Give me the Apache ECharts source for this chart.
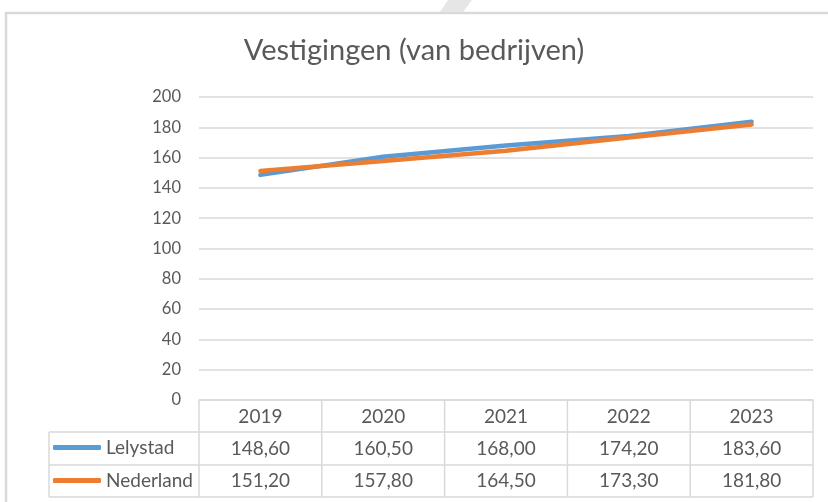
<!DOCTYPE html>
<html>
<head>
<meta charset="utf-8">
<script src="https://cdn.jsdelivr.net/npm/echarts@6/dist/echarts.min.js"></script>
<style>
    html, body { margin: 0; padding: 0; background: #fff; }
    #chart { width: 828px; height: 502px; }
</style>
</head>
<body>
<div id="chart"></div>
<script>
// data
const years = ['2019', '2020', '2021', '2022', '2023'];
const lelystad = [148.6, 160.5, 168.0, 174.2, 183.6];
const nederland = [151.2, 157.8, 164.5, 173.3, 181.8];
const seriesNames = ['Lelystad', 'Nederland'];

// layout
const gridLeft = 199, gridRight = 813, gridTop = 97, gridBottom = 400;
const rowY = [400, 432, 465, 497];
const legendLeft = 49;
const colW = (gridRight - gridLeft) / years.length;
const txt = '#595959', border = '#D9D9D9';
const font = 'Lato';
const tblSize = 19;

function fmt(v){
    return v.toFixed(2).replace('.', ',');
}

// table lines
let lines = [];
let bx = [gridLeft];
for(let i = 1; i <= years.length; i++) bx.push(gridLeft + i * colW);
bx.forEach((x) => {
    lines.push({type: 'line', shape: {x1: x, y1: rowY[0], x2: x, y2: rowY[3]}, style: {stroke: border, lineWidth: 1.5}});
});
lines.push({type: 'line', shape: {x1: legendLeft, y1: rowY[1], x2: legendLeft, y2: rowY[3]}, style: {stroke: border, lineWidth: 1.5}});
for(let r = 1; r < rowY.length; r++){
    lines.push({type: 'line', shape: {x1: legendLeft, y1: rowY[r], x2: gridRight, y2: rowY[r]}, style: {stroke: border, lineWidth: 1.5}});
}

let chart = echarts.init(document.getElementById('chart'));
chart.setOption({
    backgroundColor: '#fff',
    animation: false,
    textStyle: { fontFamily: font },
    title: {
        text: 'Vestigingen (van bedrijven)',
        left: 'center',
        top: 31,
        padding: [5, 0, 5, 8],
        textStyle: { color: txt, fontSize: 29, fontWeight: 'normal', fontFamily: font }
    },
    color: ['#5B9BD5', '#ED7D31'],
    legend: [
        {
            data: [seriesNames[0]], orient: 'vertical', left: 53, top: 438, padding: 0,
            icon: 'roundRect', itemWidth: 48, itemHeight: 5,
            textStyle: { color: txt, fontSize: tblSize, fontFamily: font }
        },
        {
            data: [seriesNames[1]], orient: 'vertical', left: 53, top: 471, padding: 0,
            icon: 'roundRect', itemWidth: 48, itemHeight: 5,
            textStyle: { color: txt, fontSize: tblSize, fontFamily: font }
        }
    ],
    grid: {
        left: gridLeft, right: 828 - gridRight, top: gridTop, bottom: 502 - gridBottom,
        containLabel: false
    },
    xAxis: [
        {
            type: 'category', data: years, position: 'bottom',
            axisLine: { show: true, lineStyle: { color: border, width: 1.5 } },
            axisTick: { show: false },
            axisLabel: { color: txt, fontSize: tblSize, margin: 7, fontFamily: font }
        },
        {
            type: 'category', data: years, position: 'bottom', offset: 32,
            axisLine: { show: false }, axisTick: { show: false },
            axisLabel: { color: txt, fontSize: tblSize, margin: 7, fontFamily: font,
                formatter: (v, i) => fmt(lelystad[i]) }
        },
        {
            type: 'category', data: years, position: 'bottom', offset: 64,
            axisLine: { show: false }, axisTick: { show: false },
            axisLabel: { color: txt, fontSize: tblSize, margin: 7, fontFamily: font,
                formatter: (v, i) => fmt(nederland[i]) }
        }
    ],
    yAxis: {
        type: 'value', min: 0, max: 200, interval: 20,
        axisLine: { show: false }, axisTick: { show: false },
        axisLabel: { color: txt, fontSize: 16.5, margin: 18, fontFamily: font },
        splitLine: { lineStyle: { color: border, width: 1.5 } }
    },
    series: [
        {
            name: seriesNames[0], type: 'line', data: lelystad,
            showSymbol: false, symbol: 'none',
            lineStyle: { width: 4.5, cap: 'round' }
        },
        {
            name: seriesNames[1], type: 'line', data: nederland,
            showSymbol: false, symbol: 'none',
            lineStyle: { width: 4.5, cap: 'round' }
        }
    ],
    graphic: [
        { type: 'rect', shape: { x: 6, y: 13, width: 840, height: 520 }, style: { fill: 'none', stroke: border, lineWidth: 2.5 } },
        { type: 'polygon', shape: { points: [[448, 0], [472, 0], [463, 12], [440, 12]] }, style: { fill: '#E6E6E6' } }
    ].concat(lines)
});
</script>
</body>
</html>
